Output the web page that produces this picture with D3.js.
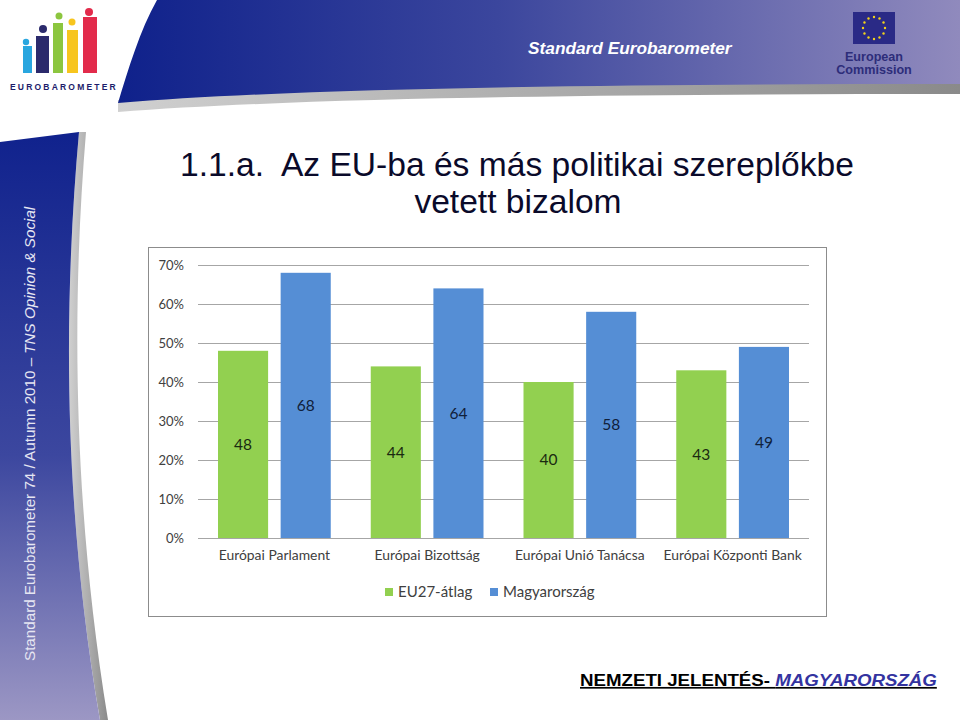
<!DOCTYPE html>
<html><head><meta charset="utf-8">
<script src="https://cdn.jsdelivr.net/npm/d3@7/dist/d3.min.js"></script>
<style>html,body{margin:0;padding:0;background:#fff;}svg{display:block;}</style>
</head><body>
<script>
const categories = ["Európai Parlament", "Európai Bizottság", "Európai Unió Tanácsa", "Európai Központi Bank"];
const seriesNames = ["EU27-átlag", "Magyarország"];
const euAvg = [48, 44, 40, 43];
const hungary = [68, 64, 58, 49];
const yTicks = [0, 10, 20, 30, 40, 50, 60, 70];
const colors = ["#92d050", "#558ed5"];

const W = 960, H = 720;
const svg = d3.select("body").append("svg").attr("width", W).attr("height", H);
const defs = svg.append("defs");
const AR = "Arial, 'Liberation Sans', sans-serif";

// header gradient
const hg = defs.append("linearGradient").attr("id", "hg").attr("x1", 0).attr("x2", 1).attr("y1", 0).attr("y2", 0);
hg.append("stop").attr("offset", 0).attr("stop-color", "#0f218b");
hg.append("stop").attr("offset", 0.45).attr("stop-color", "#3b469d");
hg.append("stop").attr("offset", 1).attr("stop-color", "#908abd");
const vg = defs.append("linearGradient").attr("id", "vg").attr("x1", 0).attr("x2", 0).attr("y1", 0).attr("y2", 1);
vg.append("stop").attr("offset", 0).attr("stop-color", "#10228d");
vg.append("stop").attr("offset", 0.55).attr("stop-color", "#3c479f");
vg.append("stop").attr("offset", 1).attr("stop-color", "#9c97c4");
const gg = defs.append("linearGradient").attr("id", "gg").attr("x1", 0).attr("x2", 1).attr("y1", 0).attr("y2", 0);
gg.append("stop").attr("offset", 0).attr("stop-color", "#d0d0d0");
gg.append("stop").attr("offset", 1).attr("stop-color", "#8a8a8a");

// header shadow
svg.append("path").attr("fill", "url(#gg)")
  .attr("d", "M118,100 C300,86 600,82 960,82 L960,94 C600,94 300,98 118,112 Z");
// header band
svg.append("path").attr("fill", "url(#hg)")
  .attr("d", "M157,0 L960,0 L960,84 C600,84 300,88 118,103 C128,70 140,30 157,0 Z");

// left band shadow
svg.append("path").attr("fill", "url(#gg)")
  .attr("d", "M79,132 C64,300 62,500 100,720 L108,720 C72,500 72,300 86,132 Z");
// left band
svg.append("path").attr("fill", "url(#vg)")
  .attr("d", "M0,142 L79,132 C64,300 62,500 100,720 L0,720 Z");

// side text
const st = svg.append("text").attr("transform", "translate(35,661) rotate(-90)")
  .attr("font-family", AR).attr("font-size", 15.2).attr("fill", "#e6e6f2");
st.append("tspan").text("Standard Eurobarometer 74 / Autumn 2010 \u2013 ");
st.append("tspan").attr("font-style", "italic").text("TNS Opinion & Social");

// logo
const logo = svg.append("g");
const figs = [
  {x:23, w:9, top:46, cx:26, cy:42, r:3.2, c:"#29a6df"},
  {x:36, w:13, top:36, cx:43, cy:29, r:4, c:"#2b2a6c"},
  {x:53, w:10, top:23, cx:59, cy:16, r:3.5, c:"#8cc63f"},
  {x:67, w:11, top:30, cx:72, cy:22, r:3.5, c:"#f7c51e"},
  {x:83, w:14, top:17, cx:89, cy:12, r:4, c:"#e22b4b"}
];
figs.forEach(f => {
  logo.append("rect").attr("x", f.x).attr("y", f.top).attr("width", f.w).attr("height", 73 - f.top).attr("fill", f.c);
  logo.append("circle").attr("cx", f.cx).attr("cy", f.cy).attr("r", f.r).attr("fill", f.c);
});
logo.append("text").attr("x", 10).attr("y", 90).attr("font-family", AR)
  .attr("font-weight", "bold").attr("font-size", 8.5).attr("letter-spacing", 2.2).attr("fill", "#1d1d6b").text("EUROBAROMETER");

// header text
svg.append("text").attr("x", 528).attr("y", 54).attr("font-family", AR)
  .attr("font-weight", "bold").attr("font-style", "italic").attr("font-size", 17.3).attr("fill", "#ffffff").text("Standard Eurobarometer");

// EU flag
svg.append("rect").attr("x", 853).attr("y", 12).attr("width", 42).attr("height", 32).attr("fill", "#2a2a86");
for (let i = 0; i < 12; i++) {
  const a = i * Math.PI / 6;
  svg.append("circle").attr("cx", 874 + 11 * Math.sin(a)).attr("cy", 28 - 11 * Math.cos(a)).attr("r", 1.2).attr("fill", "#f3d21a");
}
svg.append("text").attr("x", 874).attr("y", 61).attr("text-anchor", "middle").attr("font-family", AR)
  .attr("font-weight", "bold").attr("font-size", 12.6).attr("fill", "#2d2d7a").text("European");
svg.append("text").attr("x", 874).attr("y", 74).attr("text-anchor", "middle").attr("font-family", AR)
  .attr("font-weight", "bold").attr("font-size", 12.6).attr("fill", "#2d2d7a").text("Commission");

// title
svg.append("text").attr("x", 517).attr("y", 176).attr("text-anchor", "middle").attr("font-family", AR)
  .style("white-space", "pre")
  .attr("font-size", 33.6).attr("fill", "#0a0a2a").text("1.1.a.  Az EU-ba és más politikai szereplőkbe");
svg.append("text").attr("x", 518).attr("y", 213).attr("text-anchor", "middle").attr("font-family", AR)
  .attr("font-size", 33.6).attr("fill", "#0a0a2a").text("vetett bizalom");

// chart frame
svg.append("rect").attr("x", 148.5).attr("y", 247.5).attr("width", 678).attr("height", 369)
  .attr("fill", "#fff").attr("stroke", "#8c8c8c").attr("stroke-width", 1);

const plot = {l: 198, r: 809, t: 265, b: 538};
const y = d3.scaleLinear().domain([0, 70]).range([plot.b, plot.t]);
const x0 = d3.scaleBand().domain(categories).range([plot.l, plot.r]).padding(0);
const x1 = d3.scaleBand().domain(seriesNames).range([20, x0.bandwidth() - 20]).paddingInner(0.2).paddingOuter(0);

const cf = "Lato, 'Open Sans', 'DejaVu Sans', sans-serif";
// gridlines
const yAxis = d3.axisLeft(y).tickValues(yTicks).tickSize(-(plot.r - plot.l)).tickFormat(d => d + "%");
const ga = svg.append("g").attr("transform", `translate(${plot.l},0)`).call(yAxis);
ga.select(".domain").remove();
ga.selectAll(".tick line").attr("stroke", "#a6a6a6").attr("stroke-width", 1);
ga.selectAll(".tick text").attr("x", -14).attr("font-family", cf).attr("font-size", 13).attr("fill", "#404040");

const data = categories.map((c, i) => ({cat: c, vals: [euAvg[i], hungary[i]]}));
const grp = svg.append("g").selectAll("g").data(data).join("g").attr("transform", d => `translate(${x0(d.cat)},0)`);
grp.selectAll("rect").data(d => d.vals.map((v, j) => ({s: seriesNames[j], v, j})))
  .join("rect").attr("x", d => x1(d.s)).attr("width", x1.bandwidth())
  .attr("y", d => y(d.v)).attr("height", d => plot.b - y(d.v)).attr("fill", d => colors[d.j]);
grp.selectAll("text").data(d => d.vals.map((v, j) => ({s: seriesNames[j], v, j})))
  .join("text").attr("x", d => x1(d.s) + x1.bandwidth() / 2).attr("y", d => y(d.v / 2)).attr("dy", "0.35em")
  .attr("text-anchor", "middle").attr("font-family", cf).attr("font-size", 15.5)
  .attr("fill", d => d.j === 0 ? "#1a2a10" : "#10203a").text(d => d.v);

// x axis labels
const xa = d3.axisBottom(x0).tickSize(0).tickPadding(12);
const gx = svg.append("g").attr("transform", `translate(0,${plot.b})`).call(xa);
gx.select(".domain").remove();
gx.selectAll(".tick text").attr("font-family", cf).attr("font-size", 13.9).attr("fill", "#404040");

// legend
const lg = svg.append("g");
const legX = [385, 490];
seriesNames.forEach((s, i) => {
  lg.append("rect").attr("x", legX[i]).attr("y", 588).attr("width", 8).attr("height", 8).attr("fill", colors[i]);
  lg.append("text").attr("x", legX[i] + 13).attr("y", 592).attr("dy", "0.35em").attr("font-family", cf)
    .attr("font-size", 15).attr("fill", "#404040").text(s);
});

// footer
const ft = svg.append("text").attr("transform", "translate(580,686) scale(1.1,1)").attr("font-family", AR)
  .attr("font-weight", "bold").attr("font-size", 17).attr("text-decoration", "underline").style("white-space", "pre");
ft.append("tspan").attr("fill", "#000").text("NEMZETI JELENTÉS- ");
ft.append("tspan").attr("fill", "#3333a0").attr("font-style", "italic").text("MAGYARORSZÁG");
</script>
</body></html>
